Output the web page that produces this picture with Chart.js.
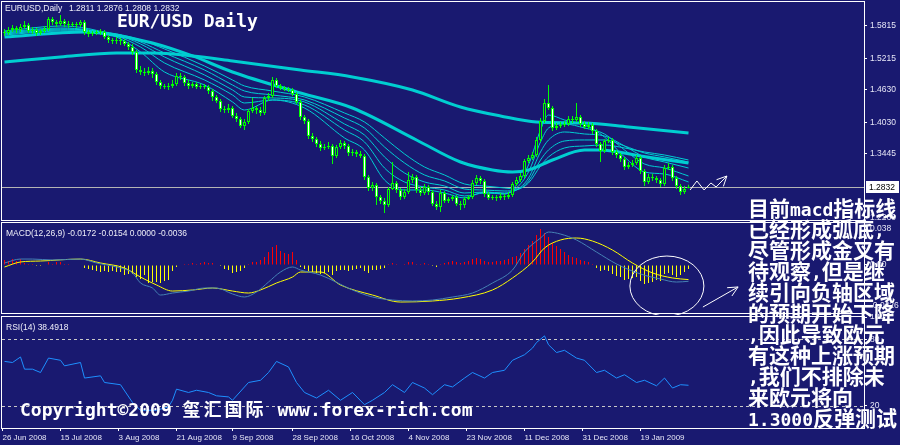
<!DOCTYPE html>
<html>
<head>
<meta charset="utf-8">
<script src="https://cdn.jsdelivr.net/npm/chart.js@4/dist/chart.umd.min.js"></script>
<style>
  body { margin: 0; background: #191970; width: 900px; height: 445px; overflow: hidden; position: relative; }
  canvas { position: absolute; left: 0; }
  .t { position: absolute; color: #eeeef8; font: 8.5px/10px "Liberation Sans", Arial, sans-serif; white-space: pre; }
  .big { position: absolute; color: #fff; font: bold 18px/18px "DejaVu Sans Mono", "Noto Sans CJK SC", monospace; white-space: pre; }
  .note { position: absolute; left: 748px; color: #fff; font: bold 21px/21px "Noto Sans CJK SC", sans-serif; white-space: pre; }
  .m { font: bold 18px/0 "DejaVu Sans Mono", monospace; }
</style>
</head>
<body>
<canvas id="priceChart" width="900" height="222" style="top:0"></canvas>
<canvas id="macdChart" width="900" height="94" style="top:221px"></canvas>
<canvas id="rsiChart" width="900" height="131" style="top:314px"></canvas>

<div class="t" style="left:5px;top:3px">EURUSD,Daily</div>
<div class="t" style="left:69px;top:3px">1.2811 1.2876 1.2808 1.2832</div>
<div class="t" style="left:6px;top:228px">MACD(12,26,9) -0.0172 -0.0154 0.0000 -0.0036</div>
<div class="t" style="left:6px;top:322px">RSI(14) 38.4918</div>
<div class="big" style="left:117px;top:12px">EUR/USD Daily</div>
<div class="big" style="left:20px;top:401px">Copyright©2009 <span style="letter-spacing:3px">玺汇国际</span> www.forex-rich.com</div>
<div class="note" style="top:197px">目前<span class="m">macd</span>指标线</div>
<div class="note" style="top:218px">已经形成弧底<span class="m">,</span></div>
<div class="note" style="top:239px">尽管形成金叉有</div>
<div class="note" style="top:260px">待观察<span class="m">,</span>但是继</div>
<div class="note" style="top:281px">续引向负轴区域</div>
<div class="note" style="top:302px">的预期开始下降</div>
<div class="note" style="top:323px"><span class="m">,</span>因此导致欧元</div>
<div class="note" style="top:344px">有这种上涨预期</div>
<div class="note" style="top:365px"><span class="m">,</span>我们不排除未</div>
<div class="note" style="top:386px">来欧元将向</div>
<div class="note" style="top:407px"><span class="m">1.3000</span>反弹测试</div>

<script>
// daily bars, 26 Jun 2008 .. end Jan 2009
const dateLabels = ['26 Jun 2008', '15 Jul 2008', '3 Aug 2008', '21 Aug 2008', '9 Sep 2008', '28 Sep 2008',
    '16 Oct 2008', '4 Nov 2008', '23 Nov 2008', '11 Dec 2008', '31 Dec 2008', '19 Jan 2009'];
const dateIdx = [-0.5, 14, 28.5, 43, 57, 72, 86.5, 101, 115.5, 130, 144.5, 159];

const opens = [1.5704,1.5685,1.5741,1.5778,1.5741,1.5796,1.5834,1.5722,1.5741,1.5685,
    1.5722,1.5759,1.5945,1.5889,1.5852,1.5908,1.5852,1.5834,1.5852,1.5834,
    1.5889,1.5704,1.5667,1.5685,1.5704,1.5704,1.5611,1.5556,1.5537,1.5556,
    1.5537,1.5482,1.5426,1.5334,1.5000,1.4963,1.4945,1.4982,1.4926,1.4778,
    1.4704,1.4685,1.4704,1.4741,1.4889,1.4870,1.4759,1.4704,1.4741,1.4685,
    1.4704,1.4685,1.4611,1.4500,1.4426,1.4278,1.4259,1.4296,1.4148,1.4093,
    1.3963,1.4037,1.4241,1.4296,1.4259,1.4204,1.4482,1.4519,1.4815,1.4704,
    1.4667,1.4648,1.4630,1.4556,1.4408,1.4130,1.4056,1.3778,1.3722,1.3630,
    1.3556,1.3574,1.3593,1.3408,1.3574,1.3648,1.3593,1.3463,1.3482,1.3445,
    1.3408,1.3019,1.2815,1.2871,1.2648,1.2574,1.2500,1.2796,1.2908,1.2778,
    1.2648,1.2741,1.2963,1.3019,1.2778,1.2722,1.2833,1.2741,1.2519,1.2463,
    1.2722,1.2574,1.2611,1.2648,1.2519,1.2500,1.2611,1.2648,1.2908,1.3000,
    1.2945,1.2704,1.2630,1.2648,1.2630,1.2667,1.2648,1.2685,1.2889,1.2963,
    1.3037,1.3315,1.3370,1.3426,1.3704,1.4056,1.4389,1.4296,1.3926,1.3963,
    1.3982,1.4000,1.4093,1.4074,1.4130,1.4000,1.3945,1.3982,1.3871,1.3630,
    1.3500,1.3685,1.3704,1.3482,1.3426,1.3352,1.3204,1.3241,1.3278,1.3370,
    1.3130,1.2926,1.3019,1.3000,1.2963,1.2889,1.3185,1.3204,1.3000,1.2852,
    1.2741,1.2811];
const highs = [1.5759,1.5797,1.5834,1.5815,1.5852,1.5908,1.5871,1.5797,1.5778,1.5759,
    1.5815,1.5982,1.5982,1.5926,1.6019,1.5945,1.5908,1.5889,1.5889,1.5926,
    1.5926,1.5741,1.5722,1.5741,1.5759,1.5741,1.5648,1.5593,1.5611,1.5593,
    1.5574,1.5519,1.5482,1.5371,1.5074,1.5037,1.5056,1.5037,1.4963,1.4815,
    1.4741,1.4759,1.4815,1.4945,1.4945,1.4908,1.4815,1.4778,1.4778,1.4741,
    1.4741,1.4722,1.4648,1.4537,1.4463,1.4333,1.4371,1.4333,1.4204,1.4130,
    1.4093,1.4278,1.4482,1.4333,1.4315,1.4519,1.4574,1.4871,1.4852,1.4741,
    1.4704,1.4685,1.4667,1.4593,1.4445,1.4167,1.4093,1.3833,1.3759,1.3685,
    1.3630,1.3667,1.3630,1.3611,1.3704,1.3685,1.3630,1.3537,1.3519,1.3500,
    1.3445,1.3056,1.2926,1.2908,1.2685,1.2630,1.2833,1.3296,1.2945,1.2815,
    1.2796,1.3111,1.3074,1.3056,1.2833,1.2889,1.2871,1.2778,1.2574,1.2778,
    1.2759,1.2648,1.2685,1.2685,1.2574,1.2648,1.2685,1.2963,1.3056,1.3037,
    1.2982,1.2741,1.2685,1.2685,1.2722,1.2704,1.2741,1.2926,1.3019,1.3093,
    1.3352,1.3426,1.3482,1.3759,1.4111,1.4463,1.4722,1.4333,1.4019,1.4037,
    1.4056,1.4148,1.4148,1.4389,1.4167,1.4056,1.4037,1.4019,1.3908,1.3667,
    1.3722,1.3759,1.3741,1.3519,1.3463,1.3389,1.3296,1.3333,1.3426,1.3408,
    1.3167,1.3074,1.3074,1.3037,1.3000,1.3241,1.3278,1.3241,1.3037,1.2889,
    1.2852,1.2876];
const lows = [1.5630,1.5648,1.5704,1.5685,1.5704,1.5759,1.5685,1.5667,1.5630,1.5648,
    1.5685,1.5722,1.5834,1.5797,1.5815,1.5797,1.5778,1.5797,1.5778,1.5797,
    1.5648,1.5611,1.5630,1.5648,1.5648,1.5574,1.5500,1.5482,1.5482,1.5463,
    1.5445,1.5371,1.5278,1.4945,1.4908,1.4889,1.4908,1.4852,1.4722,1.4648,
    1.4648,1.4630,1.4667,1.4704,1.4815,1.4704,1.4648,1.4667,1.4648,1.4648,
    1.4648,1.4556,1.4426,1.4389,1.4222,1.4204,1.4204,1.4111,1.4037,1.3926,
    1.3889,1.4000,1.4204,1.4185,1.4148,1.4167,1.4426,1.4482,1.4667,1.4630,
    1.4611,1.4593,1.4519,1.4371,1.4074,1.4000,1.3722,1.3667,1.3574,1.3500,
    1.3519,1.3537,1.3259,1.3370,1.3537,1.3537,1.3408,1.3408,1.3389,1.3370,
    1.2963,1.2759,1.2759,1.2500,1.2519,1.2352,1.2463,1.2778,1.2722,1.2593,
    1.2611,1.2704,1.2908,1.2722,1.2667,1.2685,1.2685,1.2482,1.2408,1.2371,
    1.2537,1.2537,1.2574,1.2482,1.2408,1.2445,1.2593,1.2611,1.2871,1.2889,
    1.2648,1.2593,1.2593,1.2574,1.2593,1.2593,1.2611,1.2648,1.2852,1.2926,
    1.3000,1.3278,1.3333,1.3389,1.3667,1.4019,1.4259,1.3871,1.3889,1.3926,
    1.3945,1.3963,1.4019,1.4037,1.3945,1.3908,1.3908,1.3815,1.3574,1.3296,
    1.3463,1.3648,1.3426,1.3370,1.3296,1.3148,1.3167,1.3204,1.3241,1.3074,
    1.2852,1.2889,1.2945,1.2908,1.2833,1.2852,1.3148,1.2945,1.2796,1.2685,
    1.2704,1.2808];
const closes = [1.5685,1.5741,1.5778,1.5741,1.5796,1.5834,1.5722,1.5741,1.5685,1.5722,
    1.5759,1.5945,1.5889,1.5852,1.5908,1.5852,1.5834,1.5852,1.5834,1.5889,
    1.5704,1.5667,1.5685,1.5704,1.5704,1.5611,1.5556,1.5537,1.5556,1.5537,
    1.5482,1.5426,1.5334,1.5000,1.4963,1.4945,1.4982,1.4926,1.4778,1.4704,
    1.4685,1.4704,1.4741,1.4889,1.4870,1.4759,1.4704,1.4741,1.4685,1.4704,
    1.4685,1.4611,1.4500,1.4426,1.4278,1.4259,1.4296,1.4148,1.4093,1.3963,
    1.4037,1.4241,1.4296,1.4259,1.4204,1.4482,1.4519,1.4815,1.4704,1.4667,
    1.4648,1.4630,1.4556,1.4408,1.4130,1.4056,1.3778,1.3722,1.3630,1.3556,
    1.3574,1.3593,1.3408,1.3574,1.3648,1.3593,1.3463,1.3482,1.3445,1.3408,
    1.3019,1.2815,1.2871,1.2648,1.2574,1.2500,1.2796,1.2908,1.2778,1.2648,
    1.2741,1.2963,1.3019,1.2778,1.2722,1.2833,1.2741,1.2519,1.2463,1.2722,
    1.2574,1.2611,1.2648,1.2519,1.2500,1.2611,1.2648,1.2908,1.3000,1.2945,
    1.2704,1.2630,1.2648,1.2630,1.2667,1.2648,1.2685,1.2889,1.2963,1.3037,
    1.3315,1.3370,1.3426,1.3704,1.4056,1.4389,1.4296,1.3926,1.3963,1.3982,
    1.4000,1.4093,1.4074,1.4130,1.4000,1.3945,1.3982,1.3871,1.3630,1.3500,
    1.3685,1.3704,1.3482,1.3426,1.3352,1.3204,1.3241,1.3278,1.3370,1.3130,
    1.2926,1.3019,1.3000,1.2963,1.2889,1.3185,1.3204,1.3000,1.2852,1.2741,
    1.2796,1.2832];
const lastPrice = 1.2832;
const priceTicks = [1.5815, 1.5215, 1.4630, 1.4030, 1.3445, 1.2260];

// moving averages, read at a few bars each
const ribbonIdx = [0,14,28,34,40,50,57,60,67,75,85,90,95,100,105,110,115,120,125,128,131,134,136,140,145,150,155,160,165,171];
const ema1 = [1.5722,1.5815,1.5611,1.5334,1.4963,1.4722,1.4408,1.4259,1.4445,1.4296,1.3741,1.3519,1.2963,1.2778,1.2778,
    1.2722,1.2630,1.2741,1.2704,1.2871,1.3241,1.3889,1.4167,1.4074,1.3982,1.3759,1.3389,1.3111,1.3074,1.2926];
const ema2 = [1.5704,1.5778,1.5630,1.5426,1.5130,1.4815,1.4537,1.4389,1.4445,1.4352,1.3889,1.3667,1.3185,1.2926,1.2833,
    1.2778,1.2667,1.2722,1.2704,1.2815,1.3111,1.3667,1.3926,1.4000,1.3926,1.3815,1.3519,1.3259,1.3185,1.3037];
const ema3 = [1.5685,1.5759,1.5648,1.5482,1.5241,1.4908,1.4630,1.4500,1.4482,1.4408,1.4000,1.3796,1.3389,1.3093,1.2926,
    1.2852,1.2722,1.2741,1.2722,1.2778,1.3000,1.3482,1.3704,1.3852,1.3815,1.3778,1.3593,1.3389,1.3296,1.3185];
const ema4 = [1.5667,1.5741,1.5667,1.5519,1.5315,1.5000,1.4722,1.4611,1.4537,1.4445,1.4111,1.3926,1.3574,1.3278,1.3056,
    1.2945,1.2796,1.2778,1.2759,1.2778,1.2945,1.3333,1.3519,1.3685,1.3704,1.3704,1.3593,1.3463,1.3389,1.3296];
const ema5 = [1.5648,1.5722,1.5667,1.5556,1.5389,1.5074,1.4815,1.4704,1.4611,1.4500,1.4204,1.4037,1.3741,1.3445,1.3204,
    1.3056,1.2889,1.2852,1.2815,1.2796,1.2908,1.3222,1.3389,1.3556,1.3593,1.3611,1.3556,1.3482,1.3426,1.3333];
const midIdx = [0,20,24,37,47,57,74,87,103,114,122,127,131,137,145,149,159,171];
const midMa = [1.5611,1.5704,1.5685,1.5500,1.5260,1.4963,1.4574,1.4296,1.3704,1.3296,1.3148,1.3111,1.3148,1.3333,1.3519,1.3519,1.3408,1.3278];
const longIdx = [0,14,28,37,47,57,74,87,102,114,124,133,145,156,171];
const longMa = [1.5148,1.5241,1.5315,1.5315,1.5260,1.5167,1.5000,1.4871,1.4630,1.4315,1.4148,1.4037,1.4019,1.3945,1.3833];

// MACD(12,26,9)
const macdHist = [0.0053,0.0042,0.0063,0.0042,0.0063,0.0021,0.0011,0.0011,-0.0011,-0.0011,
    0,0.0032,0.0011,0.0032,0.0032,0.0011,0.0011,0,0,0,
    -0.0032,-0.0042,-0.0053,-0.0063,-0.0074,-0.0063,-0.0074,-0.0063,-0.0074,-0.0074,
    -0.0106,-0.0095,-0.0095,-0.0127,-0.0148,-0.0106,-0.0190,-0.0180,-0.0180,-0.0190,
    -0.0169,-0.0158,-0.0063,-0.0021,0,0.0011,0.0011,0.0021,0.0011,0.0021,
    0.0032,0.0021,0.0021,0,-0.0011,-0.0042,-0.0053,-0.0084,-0.0074,-0.0063,
    -0.0032,0.0011,0.0032,0.0032,0.0053,0.0084,0.0137,0.0190,0.0211,0.0148,
    0.0127,0.0116,0.0137,0.0053,-0.0021,-0.0042,-0.0063,-0.0074,-0.0084,-0.0095,
    -0.0084,-0.0074,-0.0106,-0.0063,-0.0053,-0.0053,-0.0063,-0.0053,-0.0042,-0.0032,
    -0.0063,-0.0084,-0.0053,-0.0053,-0.0042,-0.0032,0.0011,0.0021,0.0011,0,
    0.0011,0.0032,0.0032,0.0011,0.0011,0.0021,0.0011,-0.0011,-0.0021,0.0011,
    0.0021,0.0032,0.0042,0.0032,0.0021,0.0032,0.0042,0.0063,0.0074,0.0063,
    0.0042,0.0032,0.0032,0.0042,0.0042,0.0053,0.0063,0.0084,0.0095,0.0127,
    0.0169,0.0211,0.0253,0.0317,0.0380,0.0338,0.0296,0.0232,0.0201,0.0169,
    0.0137,0.0106,0.0084,0.0074,0.0053,0.0042,0.0032,0.0011,-0.0032,-0.0063,
    -0.0053,-0.0063,-0.0095,-0.0116,-0.0127,-0.0158,-0.0148,-0.0137,-0.0127,-0.0169,
    -0.0201,-0.0190,-0.0180,-0.0158,-0.0169,-0.0095,-0.0084,-0.0106,-0.0127,-0.0106,
    -0.0074,-0.0042];
const macdIdx = [0,4,7,12,19,23,28,32,34,37,39,42,46,50,53,57,60,63,66,69,72,74,79,87,92,97,102,107,112,117,
    122,127,130,134,136,139,143,148,153,159,164,168,171];
const macdMain = [0.0021,0.0063,0.0063,0.0053,0.0063,0.0021,-0.0021,-0.0084,-0.0190,-0.0243,
    -0.0317,-0.0296,-0.0275,-0.0243,-0.0243,-0.0306,-0.0338,-0.0285,-0.0180,-0.0074,
    -0.0021,-0.0053,-0.0106,-0.0264,-0.0338,-0.0370,-0.0380,-0.0370,-0.0338,-0.0296,
    -0.0190,-0.0053,0.0137,0.0285,0.0348,0.0327,0.0264,0.0137,0.0011,-0.0095,
    -0.0148,-0.0180,-0.0172];
const signalIdx = [0,4,9,19,24,30,34,38,42,47,52,57,61,64,68,72,74,79,84,92,99,107,114,122,127,132,135,139,143,147,
    152,157,162,167,171];
const macdSignal = [-0.0021,0.0032,0.0042,0.0063,0.0021,-0.0032,-0.0127,-0.0211,-0.0275,-0.0264,
    -0.0243,-0.0275,-0.0296,-0.0264,-0.0190,-0.0127,-0.0074,-0.0074,-0.0211,-0.0317,
    -0.0391,-0.0380,-0.0348,-0.0264,-0.0137,0.0032,0.0180,0.0264,0.0285,0.0253,
    0.0158,0.0021,-0.0084,-0.0137,-0.0154];
const macdTicks = [0.038, 0, -0.0426];
const macdTickLabels = ['0.038', '0.00', '-0.0426'];

// RSI(14)
const rsiIdx = [0,2,4,5,7,9,11,14,15,19,20,24,25,29,32,34,38,41,42,43,46,48,51,53,56,57,61,64,66,68,
    71,73,75,78,81,84,87,90,92,95,97,100,102,105,107,110,112,115,117,120,122,125,127,130,132,133,135,136,138,140,
    143,145,148,150,153,155,158,160,163,165,167,169,171];
const rsiVal = [60,59,64,53,53,50,63,61,56,59,45,47,41,39,23,16,16,19,25,35,32,34,32,29,28,25,41,43,50,60,
    55,41,32,27,34,25,32,21,25,32,39,32,41,36,30,39,37,45,50,45,50,52,61,66,72,77,83,75,68,70,
    63,61,50,52,45,48,41,43,38,45,36,39,38.49];
const rsiTicks = [100, 80, 20];
const rsiLevels = [80, 20];

// hand drawn marks on the chart
const zigzag = [[171.4, 1.2778], [173.1, 1.2945], [174.9, 1.2778], [176.6, 1.2908], [177.9, 1.2833], [180.6, 1.3037]];
const circleAt = { idx: 165.6, val: -0.0222, rx: 37, ry: 30 };
const arrowFrom = { idx: 174.6, val: -0.0444 }, arrowTo = { idx: 183.4, val: -0.0232 };

const FG = '#e6e6f6';
const CYAN = '#00ced1';
const X_MIN = -0.625, X_MAX = 214.875;
const axisFont = { family: 'Liberation Sans, Arial, sans-serif', size: 8.5 };

function yAxis(min, max, ticks, labels) {
    return {
        position: 'right', min: min, max: max,
        afterBuildTicks: s => { s.ticks = ticks.map(v => ({ value: v })); },
        afterFit: s => { s.width = 36; s.paddingTop = 0; s.paddingBottom = 0; },
        ticks: { callback: (v, i) => labels[i], color: FG, font: axisFont, padding: 3, autoSkip: false },
        grid: { drawOnChartArea: false, color: '#ffffff', tickLength: 3 },
        border: { color: '#ffffff' }
    };
}
const hiddenX = { type: 'linear', min: X_MIN, max: X_MAX, offset: false, display: false };

function lineSet(idx, vals, color, width, smooth) {
    return {
        type: 'line', data: idx.map((x, k) => ({ x: x, y: vals[k] })),
        borderColor: color, borderWidth: width, pointRadius: 0,
        cubicInterpolationMode: smooth ? 'monotone' : 'default', tension: 0, order: 5
    };
}

const frame = {
    id: 'frame',
    afterDraw(chart) {
        const { ctx, chartArea: a } = chart;
        ctx.save();
        ctx.strokeStyle = '#ffffff';
        ctx.lineWidth = 1;
        ctx.strokeRect(a.left - 0.5, a.top - 0.5, a.right - a.left + 1, a.bottom - a.top + 1);
        ctx.restore();
    }
};

function arrowHead(ctx, x0, y0, x1, y1) {
    const ang = Math.atan2(y1 - y0, x1 - x0);
    [0.45, -0.45].forEach(d => {
        ctx.moveTo(x1, y1);
        ctx.lineTo(x1 - 11 * Math.cos(ang + d), y1 - 11 * Math.sin(ang + d));
    });
}

const common = (padding) => ({
    responsive: false, animation: false, events: [],
    layout: { padding: padding },
    plugins: { legend: { display: false }, tooltip: { enabled: false } }
});

// price window
new Chart(document.getElementById('priceChart'), {
    type: 'bar',
    data: {
        datasets: [
            lineSet(longIdx, longMa, CYAN, 3, true),
            lineSet(midIdx, midMa, CYAN, 3, true),
            lineSet(ribbonIdx, ema5, CYAN, 1, true),
            lineSet(ribbonIdx, ema4, CYAN, 1, true),
            lineSet(ribbonIdx, ema3, CYAN, 1, true),
            lineSet(ribbonIdx, ema2, CYAN, 1, true),
            lineSet(ribbonIdx, ema1, CYAN, 1, true),
            {
                type: 'bar', data: closes.map((c, i) => ({ x: i, y: [lows[i], highs[i]] })),
                backgroundColor: '#00ff00', barThickness: 1, grouped: false, inflateAmount: 0, order: 1
            },
            {
                type: 'bar', data: closes.map((c, i) => ({ x: i, y: [opens[i], c] })),
                backgroundColor: closes.map((c, i) => c < opens[i] ? '#ffffff' : '#191970'),
                borderColor: '#00ff00', borderWidth: 1, borderSkipped: false, minBarLength: 1,
                barThickness: 3, grouped: false, inflateAmount: 0, order: 0
            }
        ]
    },
    options: Object.assign(common({ left: 2, top: 2, right: 0, bottom: 2 }), {
        scales: {
            x: hiddenX,
            y: yAxis(1.2222, 1.6259, priceTicks, priceTicks.map(v => v.toFixed(4)))
        }
    }),
    plugins: [frame, {
        id: 'lastPrice',
        beforeDatasetsDraw(chart) {
            const { ctx, chartArea: a, scales: { y } } = chart;
            const py = Math.round(y.getPixelForValue(lastPrice)) + 0.5;
            ctx.save();
            ctx.strokeStyle = '#b4b4b4';
            ctx.beginPath(); ctx.moveTo(a.left, py); ctx.lineTo(a.right, py); ctx.stroke();
            ctx.restore();
        },
        afterDraw(chart) {
            const { ctx, chartArea: a, scales: { x, y } } = chart;
            const py = Math.round(y.getPixelForValue(lastPrice));
            ctx.save();
            ctx.fillStyle = '#ffffff';
            ctx.fillRect(a.right + 2, py - 6, 33, 12);
            ctx.fillStyle = '#000000';
            ctx.font = '8.5px "Liberation Sans", Arial, sans-serif';
            ctx.textBaseline = 'middle';
            ctx.fillText(lastPrice.toFixed(4), a.right + 5, py + 0.5);
            // white zigzag with arrow
            ctx.strokeStyle = '#ffffff'; ctx.lineWidth = 1;
            ctx.beginPath();
            const pts = zigzag.map(p => [x.getPixelForValue(p[0]), y.getPixelForValue(p[1])]);
            pts.forEach((p, k) => k ? ctx.lineTo(p[0], p[1]) : ctx.moveTo(p[0], p[1]));
            const n = pts.length;
            arrowHead(ctx, pts[n - 2][0], pts[n - 2][1], pts[n - 1][0], pts[n - 1][1]);
            ctx.stroke();
            ctx.restore();
        }
    }]
});

// MACD window
new Chart(document.getElementById('macdChart'), {
    type: 'bar',
    data: {
        datasets: [
            {
                type: 'bar', data: macdHist.map((v, i) => ({ x: i, y: v })),
                backgroundColor: macdHist.map(v => v >= 0 ? '#ff0000' : '#ffff00'),
                barThickness: 1, grouped: false, inflateAmount: 0, order: 6
            },
            lineSet(macdIdx, macdMain, '#4682b4', 1, true),
            lineSet(signalIdx, macdSignal, '#ffff00', 1, true)
        ]
    },
    options: Object.assign(common({ left: 2, top: 2, right: 0, bottom: 2 }), {
        scales: {
            x: hiddenX,
            y: yAxis(-0.05069, 0.04435, macdTicks, macdTickLabels)
        }
    }),
    plugins: [frame, {
        id: 'circleNote',
        afterDraw(chart) {
            const { ctx, scales: { x, y } } = chart;
            ctx.save();
            ctx.strokeStyle = '#ffffff'; ctx.lineWidth = 1;
            ctx.beginPath();
            ctx.ellipse(x.getPixelForValue(circleAt.idx), y.getPixelForValue(circleAt.val), circleAt.rx, circleAt.ry, 0, 0, Math.PI * 2);
            ctx.stroke();
            const x0 = x.getPixelForValue(arrowFrom.idx), y0 = y.getPixelForValue(arrowFrom.val);
            const x1 = x.getPixelForValue(arrowTo.idx), y1 = y.getPixelForValue(arrowTo.val);
            ctx.beginPath();
            ctx.moveTo(x0, y0); ctx.lineTo(x1, y1);
            arrowHead(ctx, x0, y0, x1, y1);
            ctx.stroke();
            ctx.restore();
        }
    }]
});

// RSI window with the date axis
new Chart(document.getElementById('rsiChart'), {
    type: 'line',
    data: { datasets: [lineSet(rsiIdx, rsiVal, '#1e90ff', 1, false)] },
    options: Object.assign(common({ left: 2, top: 3, right: 0, bottom: 0 }), {
        scales: {
            x: {
                type: 'linear', min: X_MIN, max: X_MAX, offset: false,
                afterBuildTicks: s => { s.ticks = dateIdx.map(v => ({ value: v })); },
                afterFit: s => { s.height = 17; s.paddingLeft = 0; s.paddingRight = 0; },
                ticks: {
                    callback: (v, i) => dateLabels[i], color: FG,
                    font: { family: 'Liberation Sans, Arial, sans-serif', size: 8 },
                    align: 'start', maxRotation: 0, autoSkip: false, padding: 2
                },
                grid: { drawOnChartArea: false, color: '#ffffff', tickLength: 3 },
                border: { color: '#ffffff' }
            },
            y: yAxis(0, 100, rsiTicks, rsiTicks.map(String))
        }
    }),
    plugins: [frame, {
        id: 'levels',
        beforeDatasetsDraw(chart) {
            const { ctx, chartArea: a, scales: { y } } = chart;
            ctx.save();
            ctx.strokeStyle = '#c8c8c8'; ctx.lineWidth = 1; ctx.setLineDash([3, 3]);
            rsiLevels.forEach(l => {
                const py = Math.round(y.getPixelForValue(l)) + 0.5;
                ctx.beginPath(); ctx.moveTo(a.left, py); ctx.lineTo(a.right, py); ctx.stroke();
            });
            ctx.restore();
        }
    }]
});
</script>
</body>
</html>
